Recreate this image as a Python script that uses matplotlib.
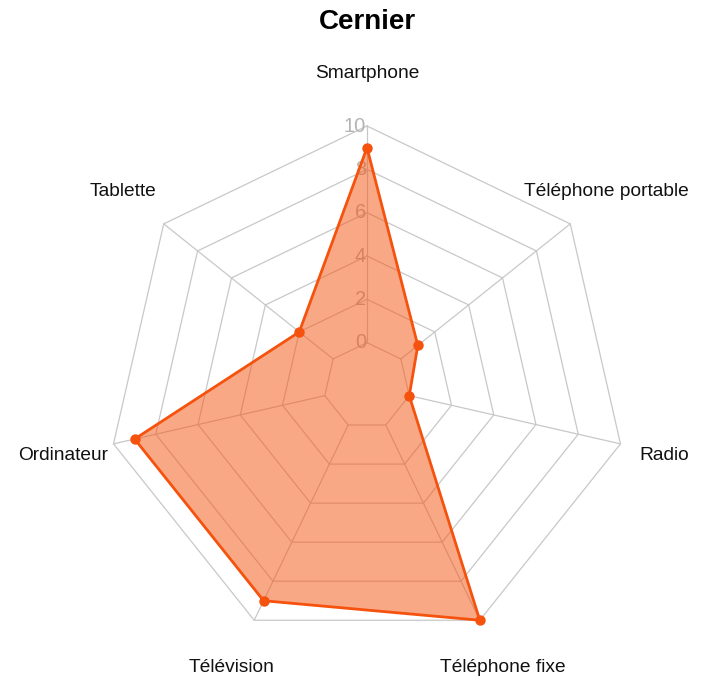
import numpy as np
import matplotlib.pyplot as plt

# data
categories = ["Smartphone", "Téléphone portable", "Radio", "Téléphone fixe",
              "Télévision", "Ordinateur", "Tablette"]
values = [9, 1, 0, 10, 9, 9, 2]
levels = [0, 2, 4, 6, 8, 10]
title = "Cernier"

vmin, vmax = 0, 10
nseg = len(levels) - 1
line_col = "#F5520E"
grid_col = "#C8C8C8"

plt.rcParams['font.family'] = ['Liberation Sans', 'DejaVu Sans']

def scale(v):
    # fmsb-style: zero sits on an inner ring, not at the centre
    return (v - vmin) / (vmax - vmin) * nseg / (nseg + 1) + 1 / (nseg + 1)

n = len(categories)
ang = np.pi / 2 - 2 * np.pi * np.arange(n) / n
ux, uy = np.cos(ang), np.sin(ang)

W, H = 702, 686
R = 260.0
cx, cy = 367, 386
fig = plt.figure(figsize=(W / 100, H / 100), dpi=100)
ax = fig.add_axes([0, 0, 1, 1])
ax.set_xlim(-cx / R, (W - cx) / R)
ax.set_ylim(-(H - cy) / R, cy / R)
ax.axis('off')

# grid rings
for lv in levels:
    r = scale(lv)
    ax.plot(np.append(ux, ux[0]) * r, np.append(uy, uy[0]) * r,
            color=grid_col, lw=0.9, zorder=1)
# spokes
r0, r1 = scale(vmin), scale(vmax)
for x, y in zip(ux, uy):
    ax.plot([x * r0, x * r1], [y * r0, y * r1], color=grid_col, lw=0.9, zorder=1)

# level labels (under the fill, so they get tinted)
for lv in levels:
    ax.text(-0.003, scale(lv), str(lv), ha='right', va='center',
            fontsize=14.5, color="#B4B4B4", zorder=1.5)

# data polygon
rv = np.array([scale(v) for v in values])
px, py = ux * rv, uy * rv
ax.fill(px, py, color=line_col, alpha=0.5, lw=0, zorder=2)
ax.plot(np.append(px, px[0]), np.append(py, py[0]), color=line_col, lw=2, zorder=3)
ax.plot(px, py, 'o', color=line_col, ms=6.5, zorder=5)

# category labels, pushed back inside the figure if they would spill out
fig.canvas.draw()
renderer = fig.canvas.get_renderer()
margin = 13 / R
for lab, x, y in zip(categories, ux, uy):
    t = ax.text(x * 1.2, y * 1.2, lab, ha='center', va='center', fontsize=13.8,
                color="#111111")
    half = t.get_window_extent(renderer).width / 2 / R
    xmin, xmax = ax.get_xlim()
    tx = min(max(x * 1.2, xmin + margin + half), xmax - margin - half)
    t.set_x(tx)

ax.text(0, cy / R - 22 / R, title, ha='center', va='center', fontsize=20,
        fontweight='bold')

fig.savefig("out.png", dpi=100, facecolor='white')
